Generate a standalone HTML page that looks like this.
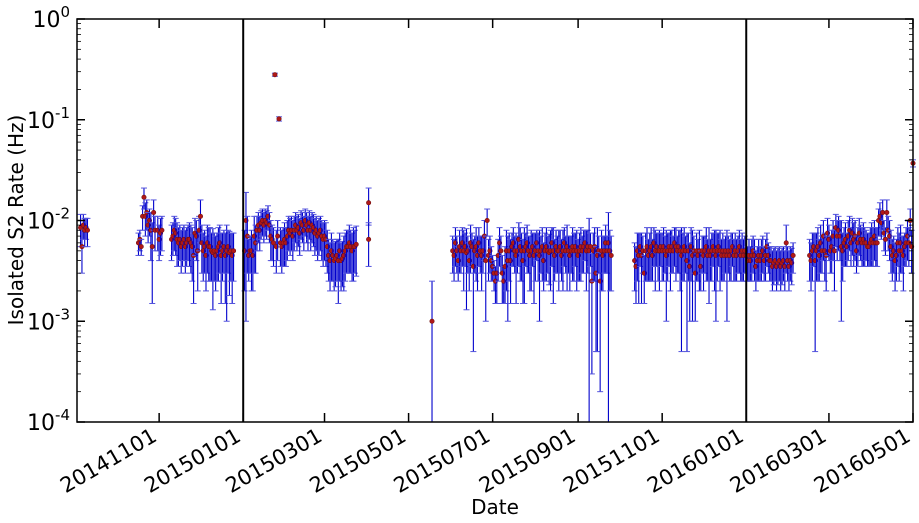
<!DOCTYPE html>
<html><head><meta charset="utf-8"><style>
html,body{margin:0;padding:0;background:#fff;}
svg{display:block;font-family:"DejaVu Sans","Liberation Sans",sans-serif;}
</style></head><body>
<svg id="chart" width="919" height="523" viewBox="0 0 919 523" xmlns="http://www.w3.org/2000/svg">
<rect x="0" y="0" width="919" height="523" fill="#fff"/>
<g id="marks"></g>
<g id="axes"></g>
<text x="0" y="0" transform="translate(23,220) rotate(-90)" text-anchor="middle" font-size="20" fill="#000">Isolated S2 Rate (Hz)</text>
<text x="495" y="514" text-anchor="middle" font-size="20" fill="#000">Date</text>
</svg>
<script>
// days relative to 2015-01-01
const tickDays = [-61, 0, 59, 120, 181, 243, 304, 365, 425, 486];
const tickLabels = ["20141101","20150101","20150301","20150501","20150701","20150901","20151101","20160101","20160301","20160501"];
const yTickExps = [0, -1, -2, -3, -4];
const vLineDays = [0, 365];
// rates and symmetric errors in mHz, per run period
const datesA = [-118,-117,-116,-115,-114,-113];
const ratesA = [8.5,5.5,9,8,8.5,8];
const errsA  = [3,2.5,2.5,2.5,2,2.5];
const datesB = [-76,-75,-74,-73,-72,-71,-70,-69,-68,-67,-66,-65,-64,-62,-61,-60,-59];
const ratesB = [6,6.5,5.5,11,17,11,12,9,10,8,5.5,12,8,8,6.5,7.5,8];
const errsB  = [1.5,1.5,1,3,4,4,4,3,3,4,4,4,3,3,2.5,3,3];
const datesC = [-52,-51,-50,-49,-48,-47,-46,-45,-44,-43,
-42,-41,-40,-39,-38,-37,-36,-35,-34,-33,
-32,-31,-30,-29,-28,-27,-26,-25,-24,-23,
-22,-21,-20,-19,-18,-17,-16,-15,-14,-13,
-12,-11,-10,-9,-8,-7];
const ratesC = [6.5,7,8,7.5,6.5,6,6.5,5.5,6,6.5,
5.5,6,6.5,6.5,6,5.5,4.5,7.5,7,5,
8,11,6,5,5.5,4.5,6,5.5,5.5,5,
4.8,5,4.5,5,5.5,6,4.5,5,5.5,4.5,
5,5.5,4.8,5,4.5,5];
const errsC = [2.5,2.5,3,3,3,2.5,2.5,2.5,2.5,2.5,
2.5,2.5,2.5,3,3,3,3,3,3,3,
3,5,3,2.5,2.5,2.5,3,3,3,2.5,
3.5,2.5,2.5,2.5,3,3,3,2.5,2.5,3,
4,2.5,3,2.5,3,2.5];
const datesD = [1,2,3,4,5,6,7,8,9,10,
11,12,13,14,15,16,17,18,19,20,
21,22,23,24,25,26,27,28,29,30,
31,32,33,34,35,36,37,38,39,40,
41,42,43,44,45,46,47,48,49,50,
51,52,53,54,55,56,57,58,59,60,
61,62,63,64,65,66,67,68,69,70,
71,72,73,74,75,76,77,78,79,80,
81,82];
const ratesD = [5,10,7,4.5,5,5,4.5,7,6,8,
9,8,9.5,10,9,10,9.5,11,9,7,
6.5,6,280,5.5,7,102,6,5.5,6,6.5,
6,7,8,7.5,8,7,8,9,8,8.5,
7.5,9.5,9,8,10,9,8,9.5,8,9,
8.5,7.5,8,7,7.5,8,7,6.5,7,6.5,
5.5,4.5,4,5,4.5,4,4.2,4.5,4,5,
4,4.2,4.5,5,5.5,5.5,6,5.5,5,5.5,
5.5,5.8];
const errsD = [3,9,4,2,2,3,2.5,4,3,3,
3,3,3,3,3,3,3,3,3,3,
2.5,2.5,10,2.5,3,5,2.5,2.5,2.5,3,
2.5,3,3,3,3,3,3,3,3,3,
3,3,3,3,3,3,3,3,3,3,
3,3,3,3,3,3,3,3,3,3,
2.5,2,2,2.5,2,2,2,2,2.5,2.5,
2,2,2.5,2.5,2.5,2.5,3,2.5,2.5,3,
2.5,3];
const datesE = [91,91,137];
const ratesE = [15,6.5,1.0];
const errsE  = [6,3,1.5];
const datesF1 = [152,153,154,155,156,157,158,159,160,161,
162,163,164,165,166,167,168,169,170,171,
172,173,174,175,176,177,178,179,180,181,
182,183,184,185,186,187,188,189,190,191,
192,193,194,195,196,197,198,199,200,201,
202,203,204,205,206,207,208,209,210,211,
212,213,214,215,216,217,218,219,220,221,
222,223,224,225,226,227,228,229,230,231,
232,233,234,235,236,237,238,239,240,241,
242,243,244,245,246,247,248,249,250,251,
252,253,254,255,256,257,258,259,260,261,
262,263,264,265,266,267];
const ratesF1 = [5,4.5,6,5,4,5.5,5,6,5,5.5,
4.8,5,4,6,5.5,3.5,5,5.5,4.5,6,
5,4.5,5,7,4,10,4.5,5,4,3.5,
3,2.5,3,4.5,6,5,3,2.5,3.5,5,
4,5,4,5.5,6,5,4.5,5,6.5,5.5,
5,4,5,5.5,6,5,4.5,5,5.5,4.5,
5,6,5,4.5,5,5.5,4,5,5.5,5,
4.8,5,6,5,4.5,5.5,5,5,5.5,4.5,
5,6,5,5.5,5,4.5,5,5.5,5,5.5,
5,4.5,5,5.5,5,5.5,6,5,5.5,5,
5.5,2.5,5,5.5,3,4.5,5,2.5,5,4.5,
5,6,5,6,5,4.5];
const errsF1 = [2,2,2.5,2,1.5,2.5,2,2.5,3,2,
3.5,2,2,3,2,3,2,3,2.5,2.5,
2,2.5,2,3,3,3,2,2,1.5,1,
1,1,1.5,2,2.5,2,1.5,1,2,3,
3,2.5,2.5,2,2.5,2,3,2,3,3,
2.5,2.5,3.5,2,3,2,2.5,3,2,3,
2.5,2,2.5,3.5,2,3,2,2.5,3,2,
2.5,3,2.5,3.5,2,2.5,2,3,2.5,2,
3,2.5,2,3.5,2,2.5,2,3,2.5,2,
3,2,2.5,3,2,2.5,2,3,2.5,5.5,
2,2.2,2.5,3,2.5,4,2,2.3,3,2.5,
2,3,2,6,3,2.5];
const datesF2 = [284,285,286,287,288,289,290,291,292,293,
294,295,296,297,298,299,300,301,302,303,
304,305,306,307,308,309,310,311,312,313,
314,315,316,317,318,319,320,321,322,323,
324,325,326,327,328,329,330,331,332,333,
334,335,336,337,338,339,340,341,342,343,
344,345,346,347,348,349,350,351,352,353,
354,355,356,357,358,359,360,361,362,363];
const ratesF2 = [4,3.5,5,4.5,5.5,4.5,5,3,5,5.5,
4.5,5,5.5,4.5,6,5,5.5,5,5,5.5,
5,5.5,5,4.5,5,5.5,5,5.5,5,6,
5.5,5,5.5,5,4.5,5,5.5,5,4,5,
3.5,5.5,4.5,5,3,5,4.5,5,3.5,5,
4.5,5,5.5,4.5,5,4.5,5,5.5,5,4.5,
5,5.5,5,4.5,5,4.5,5,4.5,5,4.5,
5,5.5,4.5,5,4.5,5,5.5,4.5,5,4.5];
const errsF2 = [2,2,2.5,3,2,3,2,1.5,2.5,3,
2,2.5,3,2,2.5,3,2,2.5,3,2,
2.5,3,2,3.5,2.5,2,3,2.5,2,2.5,
3,2,2.5,3,4,2.5,3,2,3.5,2.5,
2.5,3,3.5,2,2,2.5,2,3,1.5,2,
2.5,2,3,2,3.5,2,2.5,2,3,3.5,
2.5,2,3,2,2.5,2,2,3.5,2,2,
2.5,2,2,2.5,2,2,2.5,2,2.5,2];
const datesG = [364,365,366,367,368,369,370,371,372,373,
374,375,376,377,378,379,380,381,382,383,
384,385,386,387,388,389,390,391,392,393,
394,395,396,397,398,399];
const ratesG = [5,4.5,4,4.5,4,4.5,5,4.5,3.5,4,
4.5,4,4.5,5,4,4.5,5.5,4.5,4,4,
3.5,3.8,4,3.5,3.8,4,3.5,3.8,4,3.5,
6,4,3.5,4,3.8,4.5];
const errsG = [2,2,1.5,2,1.5,2,2,2,1.5,1.5,
2,1.5,2,2,1.5,2,2,1.5,1.5,1.5,
1.5,1.5,1.5,1.5,1.5,1.5,1.5,1.5,1.5,1.5,
3,1.5,1.5,1.5,1.5,1.5];
const datesH = [411,412,413,414,415,416,417,418,419,420,
421,422,423,424,425,426,427,428,429,430,
431,432,433,434,435,436,437,438,439,440,
441,442,443,444,445,446,447,448,449,450,
451,452,453,454,455,456,457,458,459,460,
461,462,463,464,465,466,467,468,469,470,
471,472,473,474,475,476,477,478,479,480,
481,482,483,484,485,486];
const ratesH = [4.5,4,5,5.5,4,5,5.5,4.5,6,5,
7,5,4.5,7.5,6.5,5,5.5,7,5,8.5,
7,8,7,5.5,5,6,6.5,5.5,7,8,
6,7.5,6.5,7,5,6,7.5,6.5,6,6.5,
6,6,5.5,5.5,6,6.5,6,7,6,6,
10,11,9.5,12,7.5,6.5,12,8,7,5.5,
4.5,5,4,4.5,6,5,6,5,4.5,5.5,
6,7,6,10,5.5,37];
const errsH = [2,2,2.5,2,3.5,2.5,3,2,3,2,
3,2.5,2.5,3,2.5,2,2.5,3,3,3,
3,3,3,4.5,2.5,2.5,3,2,3,3,
2.5,3,3,3,2,2.5,3,2.5,2.5,3,
2.5,2,2,2,2.5,3,2.5,3,2.5,2.5,
3,4,3,4,2.5,2,4,3,3,2.5,
2,2,2,2,2.5,2.5,3,2,2.5,2,
2.5,3,2.5,3,2.5,3];
const dates = [].concat(datesA, datesB, datesC, datesD, datesE, datesF1, datesF2, datesG, datesH);
const rates = [].concat(ratesA, ratesB, ratesC, ratesD, ratesE, ratesF1, ratesF2, ratesG, ratesH);
const errs  = [].concat(errsA, errsB, errsC, errsD, errsE, errsF1, errsF2, errsG, errsH);
</script>
<script>
const svg = document.getElementById('chart');
const NS = 'http://www.w3.org/2000/svg';
const L = 77, R = 913, T = 19, B = 422;
const D0 = -120.6, D1 = 486;
function xs(d){ return L + (d - D0) / (D1 - D0) * (R - L); }
function ys(hz){ const lg = Math.log10(hz); return B - (lg + 4) / 4 * (B - T); }
function mk(tag, attrs, parent){ const e = document.createElementNS(NS, tag); for (const k in attrs) e.setAttribute(k, attrs[k]); parent.appendChild(e); return e; }
const marks = document.getElementById('marks');
const axes = document.getElementById('axes');

for (let i = 0; i < dates.length; i++) {
  const x = xs(dates[i]);
  const v = rates[i] * 1e-3;
  const e = errs[i] * 1e-3;
  const hi = v + e;
  const lo = v - e;
  const yHi = Math.max(T, ys(hi));
  const yLo = lo > 1e-4 ? ys(lo) : B;
  const g = mk('g', {}, marks);
  
  
  mk('line', {x1:x, x2:x, y1:yHi, y2:yLo, stroke:'#0000cc', 'stroke-width':1.1}, g);
  mk('line', {x1:x-3, x2:x+3, y1:yHi, y2:yHi, stroke:'#5555dd', 'stroke-width':1}, g);
  if (lo > 1e-4) mk('line', {x1:x-3, x2:x+3, y1:yLo, y2:yLo, stroke:'#5555dd', 'stroke-width':1}, g);
  mk('circle', {cx:x, cy:ys(v), r:2.2, fill:'#b01818', stroke:'#701010', 'stroke-width':0.6}, g);
}

vLineDays.forEach(d => {
  const ln = mk('line', {x1:xs(d), x2:xs(d), y1:T, y2:B, stroke:'#000', 'stroke-width':2}, axes);
  
  
});

const fr = mk('rect', {x:L, y:T, width:R-L, height:B-T, fill:'none', stroke:'#000', 'stroke-width':1.5}, axes);



yTickExps.forEach(ex => {
  const y = ys(Math.pow(10, ex));
  mk('line', {x1:L, x2:L+8, y1:y, y2:y, stroke:'#000', 'stroke-width':1.5}, axes);
  mk('line', {x1:R, x2:R-8, y1:y, y2:y, stroke:'#000', 'stroke-width':1.5}, axes);
  const t = mk('text', {x:70, y:y+8, 'text-anchor':'end', 'font-size':22, fill:'#000'}, axes);
  
  
  t.textContent = '10';
  const s = document.createElementNS(NS, 'tspan');
  s.setAttribute('dy', '-10');
  s.setAttribute('font-size', '15');
  s.textContent = String(ex);
  t.appendChild(s);
  if (ex > -4) {
    for (let m = 2; m <= 9; m++) {
      const ym = ys(m * Math.pow(10, ex - 1));
      mk('line', {x1:L, x2:L+4, y1:ym, y2:ym, stroke:'#000', 'stroke-width':0.8}, axes);
      mk('line', {x1:R, x2:R-4, y1:ym, y2:ym, stroke:'#000', 'stroke-width':0.8}, axes);
    }
  }
});

tickDays.forEach((d, i) => {
  const x = xs(d);
  mk('line', {x1:x, x2:x, y1:B, y2:B-9, stroke:'#000', 'stroke-width':1.5}, axes);
  mk('line', {x1:x, x2:x, y1:T, y2:T+9, stroke:'#000', 'stroke-width':1.5}, axes);
  const t = mk('text', {x:0, y:0, 'text-anchor':'end', 'font-size':21, fill:'#000', transform:'translate(' + (x-1) + ',440) rotate(-30)'}, axes);
  
  
  t.textContent = tickLabels[i];
});
</script>
</body></html>
